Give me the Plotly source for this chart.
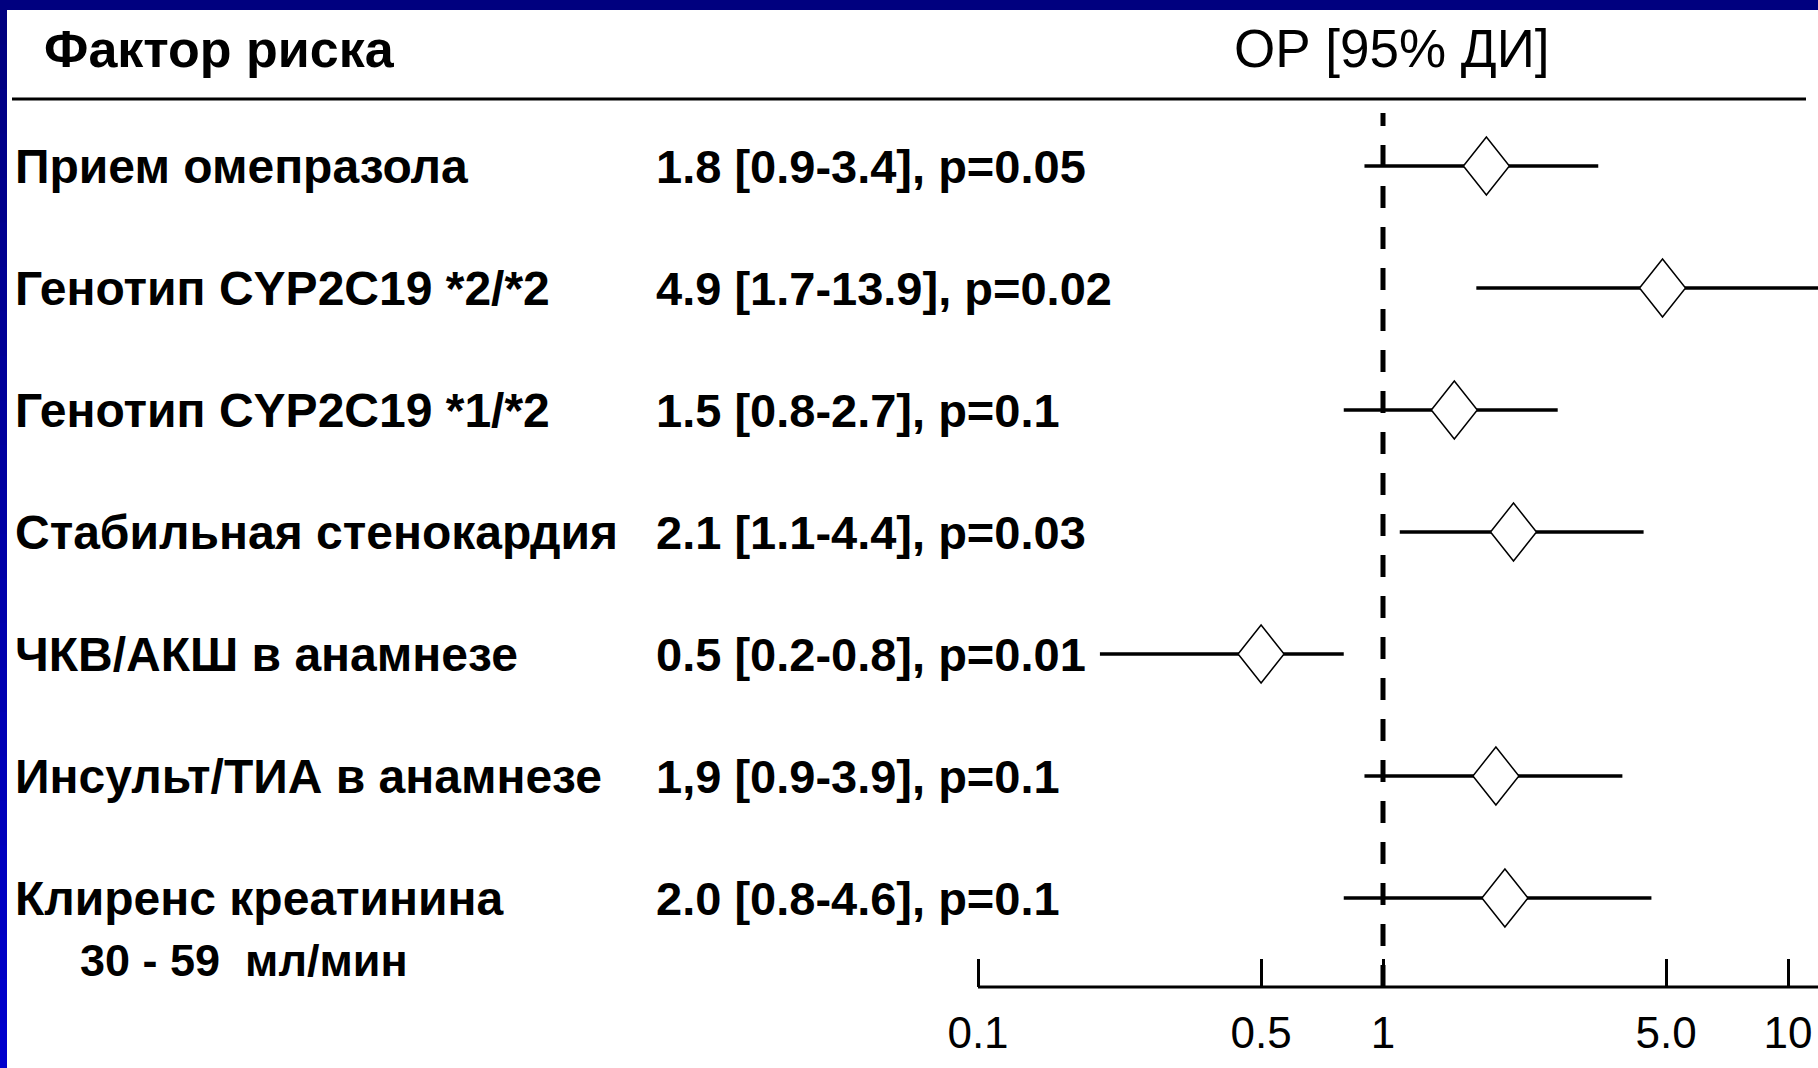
import plotly.graph_objects as go

# ---- data -----------------------------------------------------------------
FACTORS = [
    "Прием омепразола",
    "Генотип CYP2C19 *2/*2",
    "Генотип CYP2C19 *1/*2",
    "Стабильная стенокардия",
    "ЧКВ/АКШ в анамнезе",
    "Инсульт/ТИА в анамнезе",
    "Клиренс креатинина",
]
LAST_FACTOR_NOTE = "30 - 59\u00a0 мл/мин"
OR_TXT = ["1.8", "4.9", "1.5", "2.1", "0.5", "1,9", "2.0"]
CI_LO = [0.9, 1.7, 0.8, 1.1, 0.2, 0.9, 0.8]
CI_HI = [3.4, 13.9, 2.7, 4.4, 0.8, 3.9, 4.6]
P_TXT = ["0.05", "0.02", "0.1", "0.03", "0.01", "0.1", "0.1"]
TICK_VALS = [0.1, 0.5, 1, 5, 10]
TICK_TXT = ["0.1", "0.5", "1", "5.0", "10"]

# ---- geometry / style -----------------------------------------------------
W, H = 1818, 1068
AXIS_PX = 987            # vertical pixel of the x axis (bottom of plot area)
ROW0_PX, ROW_STEP_PX = 166, 122
ONE_PX, DECADE_PX = 1383, 405
FONT = "Liberation Sans, Arial, sans-serif"
NAVY = "#00007f"

rows = list(range(len(FACTORS)))
or_vals = [float(s.replace(",", ".")) for s in OR_TXT]

y_range = [(AXIS_PX - ROW0_PX) / ROW_STEP_PX, -ROW0_PX / ROW_STEP_PX]
x_range = [(0 - ONE_PX) / DECADE_PX, (W - ONE_PX) / DECADE_PX]

def px_x(p):
    return p / W

def px_y(p):
    return 1 - p / AXIS_PX

fig = go.Figure()

# confidence intervals
for r, lo, hi in zip(rows, CI_LO, CI_HI):
    fig.add_trace(go.Scatter(x=[lo, hi], y=[r, r], mode="lines",
                             line=dict(color="black", width=3.5),
                             hoverinfo="skip", showlegend=False))

# point estimates drawn as open diamonds
half_w = 10 ** (23 / DECADE_PX)
half_h = 29 / ROW_STEP_PX
for r, v in zip(rows, or_vals):
    fig.add_trace(go.Scatter(
        x=[v / half_w, v, v * half_w, v, v / half_w],
        y=[r, r - half_h, r, r + half_h, r],
        mode="lines", fill="toself", fillcolor="white",
        line=dict(color="black", width=1.5),
        hoverinfo="skip", showlegend=False))

annotations = []
for r, name, ort, lo, hi, p in zip(rows, FACTORS, OR_TXT, CI_LO, CI_HI, P_TXT):
    annotations.append(dict(
        x=px_x(13), xref="paper", y=r, yref="y", xanchor="left", yanchor="middle",
        text=f"<b>{name}</b>", showarrow=False,
        font=dict(family=FONT, size=48, color="black")))
    annotations.append(dict(
        x=px_x(654), xref="paper", y=r, yref="y", xanchor="left", yanchor="middle",
        text=f"<b>{ort} [{lo:g}-{hi:g}], p={p}</b>", showarrow=False,
        font=dict(family=FONT, size=47, color="black")))

annotations.append(dict(
    x=px_x(78), xref="paper", y=rows[-1], yref="y", yshift=-62,
    xanchor="left", yanchor="middle", text=f"<b>{LAST_FACTOR_NOTE}</b>",
    showarrow=False, font=dict(family=FONT, size=45, color="black")))

# column headers
annotations.append(dict(
    x=px_x(42), xref="paper", y=px_y(49), yref="paper", xanchor="left",
    yanchor="middle", text="<b>Фактор риска</b>", showarrow=False,
    font=dict(family=FONT, size=52, color="black")))
annotations.append(dict(
    x=px_x(1232), xref="paper", y=px_y(48), yref="paper", xanchor="left",
    yanchor="middle", text="ОР [95% ДИ]", showarrow=False,
    font=dict(family=FONT, size=53, color="black")))

shapes = [
    # header rule
    dict(type="line", xref="paper", yref="paper", x0=px_x(12), x1=px_x(1806),
         y0=px_y(99), y1=px_y(99), line=dict(color="black", width=3)),
    # line of no effect
    dict(type="line", xref="x", yref="paper", x0=1, x1=1, y0=0, y1=px_y(113),
         line=dict(color="black", width=5, dash="22px,19px")),
    # x axis baseline starting at the first tick
    dict(type="line", xref="x", yref="paper", x0=TICK_VALS[0], x1=10 ** x_range[1],
         y0=0, y1=0, line=dict(color="black", width=3)),
    # slide frame: top band
    dict(type="rect", xref="paper", yref="paper", x0=0, x1=1,
         y0=px_y(10), y1=px_y(0), fillcolor=NAVY, line=dict(width=0), layer="above"),
]

# slide frame: left band shading from navy to bright blue
n_seg = 24
for k in range(n_seg):
    t = k / (n_seg - 1)
    b = int(round(0x7f + (0xcc - 0x7f) * t))
    shapes.append(dict(
        type="rect", xref="paper", yref="paper", x0=0, x1=px_x(7),
        y0=px_y(H * (k + 1) / n_seg + 1), y1=px_y(H * k / n_seg),
        fillcolor=f"#0000{b:02x}", line=dict(width=0), layer="above"))

fig.update_layout(
    width=W, height=H,
    margin=dict(l=0, r=0, t=0, b=H - AXIS_PX, pad=0),
    paper_bgcolor="white", plot_bgcolor="white",
    showlegend=False,
    annotations=annotations,
    shapes=shapes,
    xaxis=dict(type="log", range=x_range, tickvals=TICK_VALS, ticktext=TICK_TXT,
               ticks="inside", ticklen=28, tickwidth=3, tickcolor="black",
               showgrid=False, showline=False, zeroline=False,
               tickfont=dict(family=FONT, size=44, color="black"),
               ticklabelstandoff=16, fixedrange=True),
    yaxis=dict(range=y_range, visible=False, fixedrange=True),
)

fig.write_html("out.html", config={"displayModeBar": False})
